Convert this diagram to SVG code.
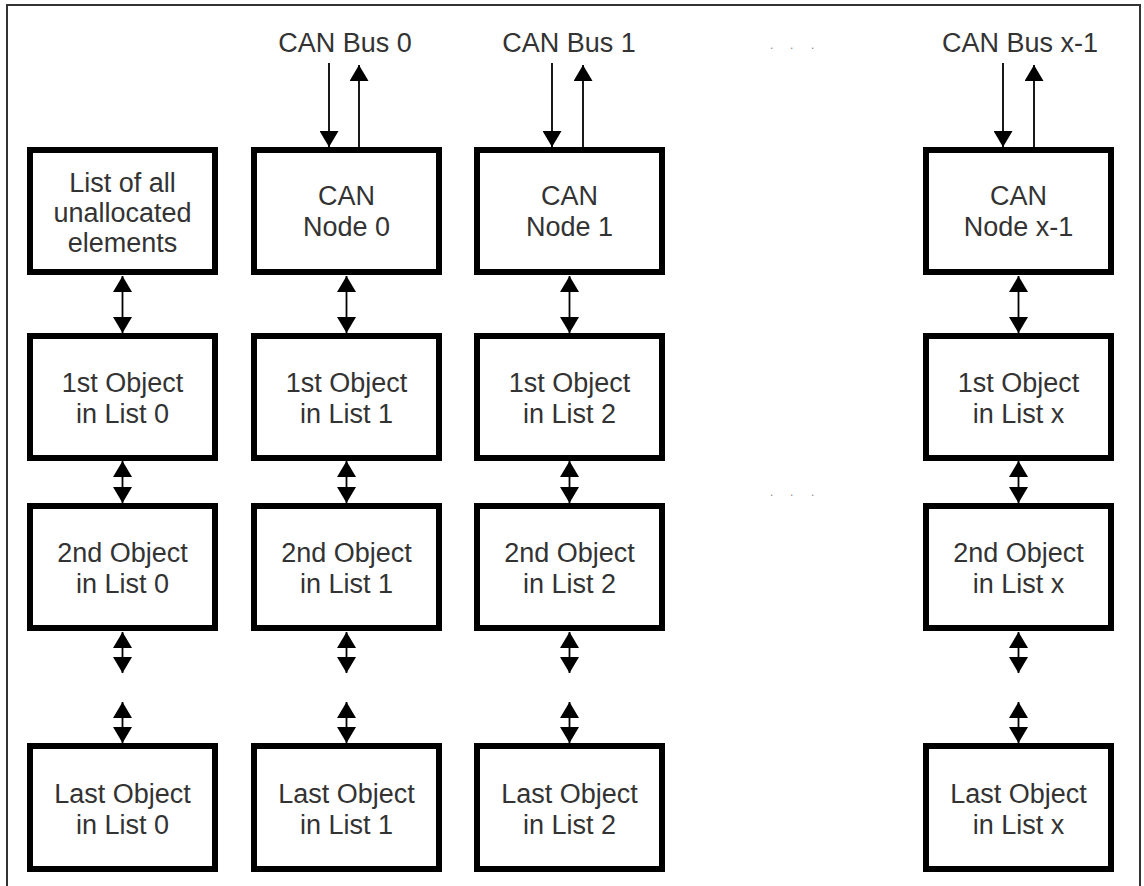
<svg xmlns="http://www.w3.org/2000/svg" width="1144" height="886" viewBox="0 0 1144 886">
  <defs>
    <style>
      .box { fill: #ffffff; stroke: #000000; stroke-width: 6; }
      .lbl { font-family: "Liberation Sans", Arial, sans-serif; font-size: 27px; fill: #333333; text-anchor: middle; }
      .dots { font-family: "Liberation Sans", Arial, sans-serif; font-size: 12px; fill: #888888; }
      .ln { stroke: #000000; stroke-width: 1.8; fill: none; }
      .dbl { marker-start: url(#ah); marker-end: url(#ah); }
      .one { marker-end: url(#ah); }
    </style>
    <marker id="ah" markerUnits="userSpaceOnUse" markerWidth="17" markerHeight="19" viewBox="0 0 17 19" refX="16" refY="9.5" orient="auto-start-reverse">
      <path d="M0,0 L16,9.5 L0,19 Z" fill="#000000"/>
    </marker>
  </defs>
  <rect x="0" y="0" width="1144" height="886" fill="#ffffff"/>
  <path d="M7,886 V5 H1140 V886" fill="none" stroke="#333333" stroke-width="2"/>

  <g id="dots-top"><text class="dots" x="770 790 811" y="49">...</text></g>
  <g id="dots-mid"><text class="dots" x="770 790 811" y="496">...</text></g>

  <g id="bus0"><text class="lbl" x="345" y="52">CAN Bus 0</text></g>
  <g id="bus1"><text class="lbl" x="569" y="52">CAN Bus 1</text></g>
  <g id="busx"><text class="lbl" x="1020" y="52">CAN Bus x-1</text></g>

  <g id="connectors">
    <line class="ln one" x1="329" y1="63" x2="329" y2="147"/>
    <line class="ln one" x1="359" y1="147" x2="359" y2="65"/>
    <line class="ln one" x1="552" y1="63" x2="552" y2="147"/>
    <line class="ln one" x1="583" y1="147" x2="583" y2="65"/>
    <line class="ln one" x1="1003" y1="63" x2="1003" y2="147"/>
    <line class="ln one" x1="1034" y1="147" x2="1034" y2="65"/>

    <line class="ln dbl" x1="122.5" y1="276" x2="122.5" y2="333"/>
    <line class="ln dbl" x1="346.5" y1="276" x2="346.5" y2="333"/>
    <line class="ln dbl" x1="569.5" y1="276" x2="569.5" y2="333"/>
    <line class="ln dbl" x1="1018.5" y1="276" x2="1018.5" y2="333"/>

    <line class="ln dbl" x1="122.5" y1="461" x2="122.5" y2="503"/>
    <line class="ln dbl" x1="346.5" y1="461" x2="346.5" y2="503"/>
    <line class="ln dbl" x1="569.5" y1="461" x2="569.5" y2="503"/>
    <line class="ln dbl" x1="1018.5" y1="461" x2="1018.5" y2="503"/>

    <line class="ln dbl" x1="122.5" y1="632" x2="122.5" y2="673"/>
    <line class="ln dbl" x1="346.5" y1="632" x2="346.5" y2="673"/>
    <line class="ln dbl" x1="569.5" y1="632" x2="569.5" y2="673"/>
    <line class="ln dbl" x1="1018.5" y1="632" x2="1018.5" y2="673"/>

    <line class="ln dbl" x1="122.5" y1="702" x2="122.5" y2="743"/>
    <line class="ln dbl" x1="346.5" y1="702" x2="346.5" y2="743"/>
    <line class="ln dbl" x1="569.5" y1="702" x2="569.5" y2="743"/>
    <line class="ln dbl" x1="1018.5" y1="702" x2="1018.5" y2="743"/>
  </g>

  <g id="unallocated">
    <rect class="box" x="30" y="150" width="185" height="122"/>
    <text class="lbl" x="122.5" y="192">List of all</text>
    <text class="lbl" x="122.5" y="222">unallocated</text>
    <text class="lbl" x="122.5" y="252">elements</text>
  </g>
  <g id="node0">
    <rect class="box" x="254" y="150" width="185" height="122"/>
    <text class="lbl" x="346.5" y="205">CAN</text>
    <text class="lbl" x="346.5" y="236">Node 0</text>
  </g>
  <g id="node1">
    <rect class="box" x="477" y="150" width="185" height="122"/>
    <text class="lbl" x="569.5" y="205">CAN</text>
    <text class="lbl" x="569.5" y="236">Node 1</text>
  </g>
  <g id="nodex">
    <rect class="box" x="926" y="150" width="185" height="122"/>
    <text class="lbl" x="1018.5" y="205">CAN</text>
    <text class="lbl" x="1018.5" y="236">Node x-1</text>
  </g>

  <g id="first0">
    <rect class="box" x="30" y="336" width="185" height="122"/>
    <text class="lbl" x="122.5" y="392">1st Object</text>
    <text class="lbl" x="122.5" y="423">in List 0</text>
  </g>
  <g id="first1">
    <rect class="box" x="254" y="336" width="185" height="122"/>
    <text class="lbl" x="346.5" y="392">1st Object</text>
    <text class="lbl" x="346.5" y="423">in List 1</text>
  </g>
  <g id="first2">
    <rect class="box" x="477" y="336" width="185" height="122"/>
    <text class="lbl" x="569.5" y="392">1st Object</text>
    <text class="lbl" x="569.5" y="423">in List 2</text>
  </g>
  <g id="firstx">
    <rect class="box" x="926" y="336" width="185" height="122"/>
    <text class="lbl" x="1018.5" y="392">1st Object</text>
    <text class="lbl" x="1018.5" y="423">in List x</text>
  </g>

  <g id="second0">
    <rect class="box" x="30" y="506" width="185" height="122"/>
    <text class="lbl" x="122.5" y="562">2nd Object</text>
    <text class="lbl" x="122.5" y="593">in List 0</text>
  </g>
  <g id="second1">
    <rect class="box" x="254" y="506" width="185" height="122"/>
    <text class="lbl" x="346.5" y="562">2nd Object</text>
    <text class="lbl" x="346.5" y="593">in List 1</text>
  </g>
  <g id="second2">
    <rect class="box" x="477" y="506" width="185" height="122"/>
    <text class="lbl" x="569.5" y="562">2nd Object</text>
    <text class="lbl" x="569.5" y="593">in List 2</text>
  </g>
  <g id="secondx">
    <rect class="box" x="926" y="506" width="185" height="122"/>
    <text class="lbl" x="1018.5" y="562">2nd Object</text>
    <text class="lbl" x="1018.5" y="593">in List x</text>
  </g>

  <g id="last0">
    <rect class="box" x="30" y="746" width="185" height="123"/>
    <text class="lbl" x="122.5" y="803">Last Object</text>
    <text class="lbl" x="122.5" y="834">in List 0</text>
  </g>
  <g id="last1">
    <rect class="box" x="254" y="746" width="185" height="123"/>
    <text class="lbl" x="346.5" y="803">Last Object</text>
    <text class="lbl" x="346.5" y="834">in List 1</text>
  </g>
  <g id="last2">
    <rect class="box" x="477" y="746" width="185" height="123"/>
    <text class="lbl" x="569.5" y="803">Last Object</text>
    <text class="lbl" x="569.5" y="834">in List 2</text>
  </g>
  <g id="lastx">
    <rect class="box" x="926" y="746" width="185" height="123"/>
    <text class="lbl" x="1018.5" y="803">Last Object</text>
    <text class="lbl" x="1018.5" y="834">in List x</text>
  </g>
</svg>
